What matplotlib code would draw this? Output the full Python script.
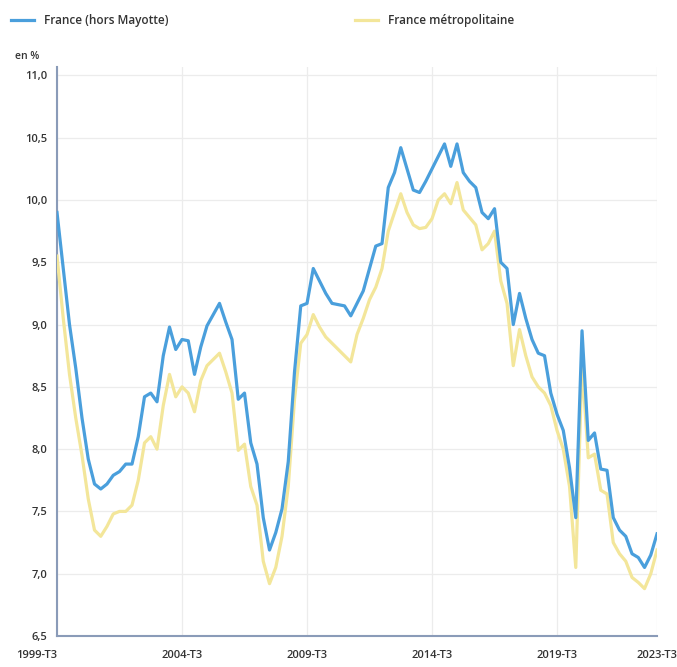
import matplotlib
matplotlib.use("Agg")
import matplotlib.pyplot as plt

# trimestres de 1999-T3 a 2023-T3
trimestres = [f"{1999 + (2 + i) // 4}-T{(2 + i) % 4 + 1}" for i in range(97)]

france_hors_mayotte = [
    9.90, 9.45, 9.00, 8.65, 8.25, 7.92, 7.72, 7.68, 7.72, 7.79,
    7.82, 7.88, 7.88, 8.10, 8.42, 8.45, 8.38, 8.75, 8.98, 8.80,
    8.88, 8.87, 8.60, 8.82, 8.99, 9.08, 9.17, 9.02, 8.88, 8.40,
    8.45, 8.05, 7.88, 7.45, 7.19, 7.33, 7.52, 7.90, 8.62, 9.15,
    9.17, 9.45, 9.35, 9.25, 9.17, 9.16, 9.15, 9.07, 9.17, 9.27,
    9.45, 9.63, 9.65, 10.10, 10.22, 10.42, 10.25, 10.08, 10.06, 10.15,
    10.25, 10.35, 10.45, 10.27, 10.45, 10.22, 10.15, 10.10, 9.90, 9.85,
    9.93, 9.50, 9.45, 9.00, 9.25, 9.05, 8.88, 8.77, 8.75, 8.45,
    8.28, 8.15, 7.85, 7.45, 8.95, 8.07, 8.13, 7.84, 7.83, 7.45,
    7.35, 7.30, 7.16, 7.13, 7.05, 7.15, 7.32,
]

france_metro = [
    9.55, 9.05, 8.60, 8.25, 7.95, 7.60, 7.35, 7.30, 7.38, 7.48,
    7.50, 7.50, 7.55, 7.75, 8.05, 8.10, 8.00, 8.35, 8.60, 8.42,
    8.50, 8.45, 8.30, 8.55, 8.67, 8.72, 8.77, 8.62, 8.45, 7.99,
    8.04, 7.70, 7.55, 7.10, 6.92, 7.05, 7.30, 7.70, 8.40, 8.85,
    8.92, 9.08, 8.98, 8.90, 8.85, 8.80, 8.75, 8.70, 8.92, 9.05,
    9.20, 9.30, 9.45, 9.75, 9.90, 10.05, 9.90, 9.80, 9.77, 9.78,
    9.85, 10.00, 10.05, 9.97, 10.14, 9.92, 9.86, 9.80, 9.60, 9.65,
    9.75, 9.35, 9.17, 8.67, 8.96, 8.75, 8.58, 8.50, 8.45, 8.35,
    8.15, 8.00, 7.70, 7.05, 8.68, 7.93, 7.96, 7.67, 7.64, 7.25,
    7.16, 7.10, 6.97, 6.93, 6.88, 7.00, 7.19,
]

etiquettes_x = ["1999-T3", "2004-T3", "2009-T3", "2014-T3", "2019-T3", "2023-T3"]
graduations_y = [6.5, 7.0, 7.5, 8.0, 8.5, 9.0, 9.5, 10.0, 10.5, 11.0]

bleu = "#4a9fdc"
jaune = "#f3e69a"
gris_texte = "#333333"
police = "Open Sans"

fig = plt.figure(figsize=(6.77, 6.67), dpi=100)
ax = fig.add_axes([0.0842, 0.0465, 0.8863, 0.8535])

x = list(range(len(trimestres)))
l2, = ax.plot(x, france_metro, color=jaune, lw=2.3, label="France métropolitaine", zorder=3)
l1, = ax.plot(x, france_hors_mayotte, color=bleu, lw=2.3, label="France (hors Mayotte)", zorder=4)

ax.set_xlim(0, len(trimestres) - 1)
ax.set_ylim(6.5, 11.07)

pos_x = [trimestres.index(e) for e in etiquettes_x]
ax.set_xticks(pos_x)
ax.set_xticklabels(etiquettes_x)
ax.set_yticks(graduations_y)
ax.set_yticklabels([f"{v:.1f}".replace(".", ",") for v in graduations_y])
ax.tick_params(length=0, labelsize=8, colors=gris_texte)
ax.tick_params(axis="x", pad=10)
ax.tick_params(axis="y", pad=7)
for t in ax.get_xticklabels() + ax.get_yticklabels():
    t.set_fontfamily(police)
    t.set_fontweight("semibold")
ax.get_xticklabels()[0].set_horizontalalignment("right")
ax.get_xticklabels()[0].set_x(pos_x[0] - 0.8)

ax.grid(True, color="#ececec", lw=0.9)
ax.set_axisbelow(True)
for s in ["top", "right"]:
    ax.spines[s].set_visible(False)
for s in ["left", "bottom"]:
    ax.spines[s].set_color("#8a9bb8")
    ax.spines[s].set_linewidth(1.5)

fig.text(0.022, 0.912, "en %", fontsize=7.5, color=gris_texte, fontfamily=police, fontweight="semibold")

fig.legend(handles=[l1, l2], loc="upper left", bbox_to_anchor=(0.0, 0.995), ncol=2,
           frameon=False, handlelength=2.0, handletextpad=0.8, columnspacing=15.8,
           prop={"family": police, "weight": "semibold", "size": 8.5}, labelcolor=gris_texte)

fig.savefig("out.png", dpi=100, facecolor="white")
